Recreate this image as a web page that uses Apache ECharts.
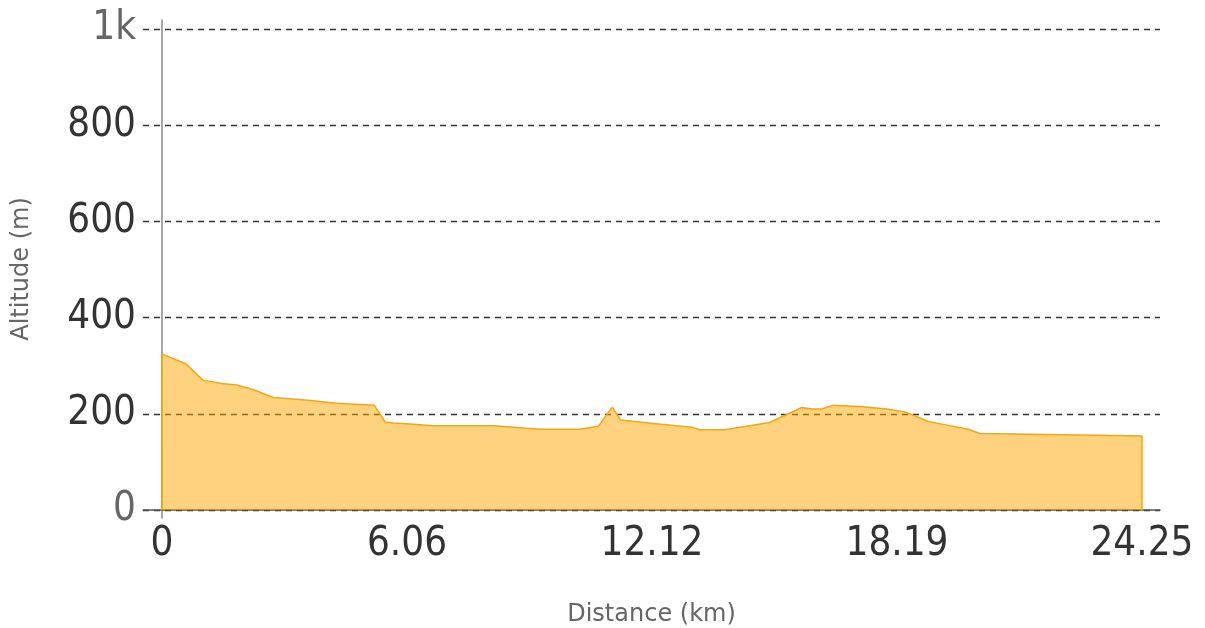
<!DOCTYPE html>
<html>
<head>
<meta charset="utf-8">
<script src="https://cdn.jsdelivr.net/npm/echarts@6/dist/echarts.min.js"></script>
<style>
  html, body { margin: 0; padding: 0; background: #fff; }
  #chart { width: 1205px; height: 628px; }
</style>
</head>
<body>
<div id="chart"></div>
<script>
// elevation profile
const distance = [0, 0.59, 1.01, 1.48, 1.85, 2.26, 2.75, 3.25, 3.74, 4.32, 5.25, 5.52, 5.72, 6.14, 6.71, 8.20,
  9.35, 10.34, 10.80, 11.14, 11.35, 12.16, 13.11, 13.31, 13.93, 15.04, 15.83, 16.08, 16.33, 16.61, 17.27,
  17.93, 18.39, 18.96, 19.33, 19.95, 20.24, 21.07, 23.54, 24.25]
const altitude = [324, 304, 270, 263, 260, 250, 234, 231, 227, 222, 218, 183, 181, 179, 175, 175,
  168, 168, 174, 214, 187, 180, 172, 167, 167, 182, 213, 210, 210, 218, 215,
  210, 204, 184, 178, 168, 159, 158, 155, 154]

const xTicks = [0, 6.0625, 12.125, 18.1875, 24.25]
const xTickLabels = ['0', '6.06', '12.12', '18.19', '24.25']
const yTicks = [0, 200, 400, 600, 800, 1000]
const yTickLabels = ['0', '200', '400', '600', '800', '1k']

const font = "'DejaVu Sans Condensed', 'DejaVu Sans', sans-serif"

// close the profile down to the ground at both ends, like the original outline
let points = distance.map((d, i) => [d, altitude[i]])
points = [[distance[0], 0]].concat(points, [[distance[distance.length - 1], 0]])

let chart = echarts.init(document.getElementById('chart'))
let option = {
  animation: false,
  grid: {
    left: 143,
    right: 45,
    top: 20,
    bottom: 110,
    containLabel: false,
    outerBoundsMode: 'none'
  },
  xAxis: {
    type: 'value',
    min: -0.4702,
    max: 24.696,
    name: 'Distance (km)',
    nameLocation: 'middle',
    nameGap: 85,
    nameTextStyle: { color: '#666', fontSize: 24, fontFamily: 'DejaVu Sans' },
    axisLine: { onZero: true, lineStyle: { color: '#555', width: 1.5 } },
    axisTick: { show: false, customValues: xTicks },
    splitLine: { show: false },
    axisLabel: {
      customValues: xTicks,
      margin: 7,
      fontSize: 40,
      fontFamily: font,
      color: '#333',
      formatter: function (v) {
        let i = xTicks.indexOf(v)
        return i >= 0 ? xTickLabels[i] : ''
      }
    }
  },
  yAxis: {
    type: 'value',
    min: -16.63,
    max: 1018.7,
    name: 'Altitude (m)',
    nameLocation: 'middle',
    nameGap: 109,
    nameTextStyle: { color: '#666', fontSize: 24, fontFamily: 'DejaVu Sans' },
    axisLine: { show: true, onZero: true, lineStyle: { color: '#888', width: 1.5 } },
    axisTick: { show: false, customValues: yTicks },
    splitLine: {
      show: true,
      lineStyle: { color: '#333', width: 1.3, type: [6, 5] }
    },
    axisLabel: {
      customValues: yTicks,
      margin: 7,
      fontSize: 40,
      fontFamily: font,
      color: '#333',
      rich: {
        g: { color: '#666', fontSize: 40, fontFamily: font }
      },
      formatter: function (v) {
        let i = yTicks.indexOf(v)
        if (i < 0) return ''
        // first and last labels are drawn lighter
        if (i === 0 || i === yTicks.length - 1) return '{g|' + yTickLabels[i] + '}'
        return yTickLabels[i]
      }
    }
  },
  series: [
    {
      type: 'line',
      data: points,
      symbol: 'none',
      lineStyle: { color: '#FFA500', width: 1.5 },
      areaStyle: { color: '#FFA500', opacity: 0.5, origin: 'auto' },
      z: 3
    }
  ]
}
chart.setOption(option)
</script>
</body>
</html>
